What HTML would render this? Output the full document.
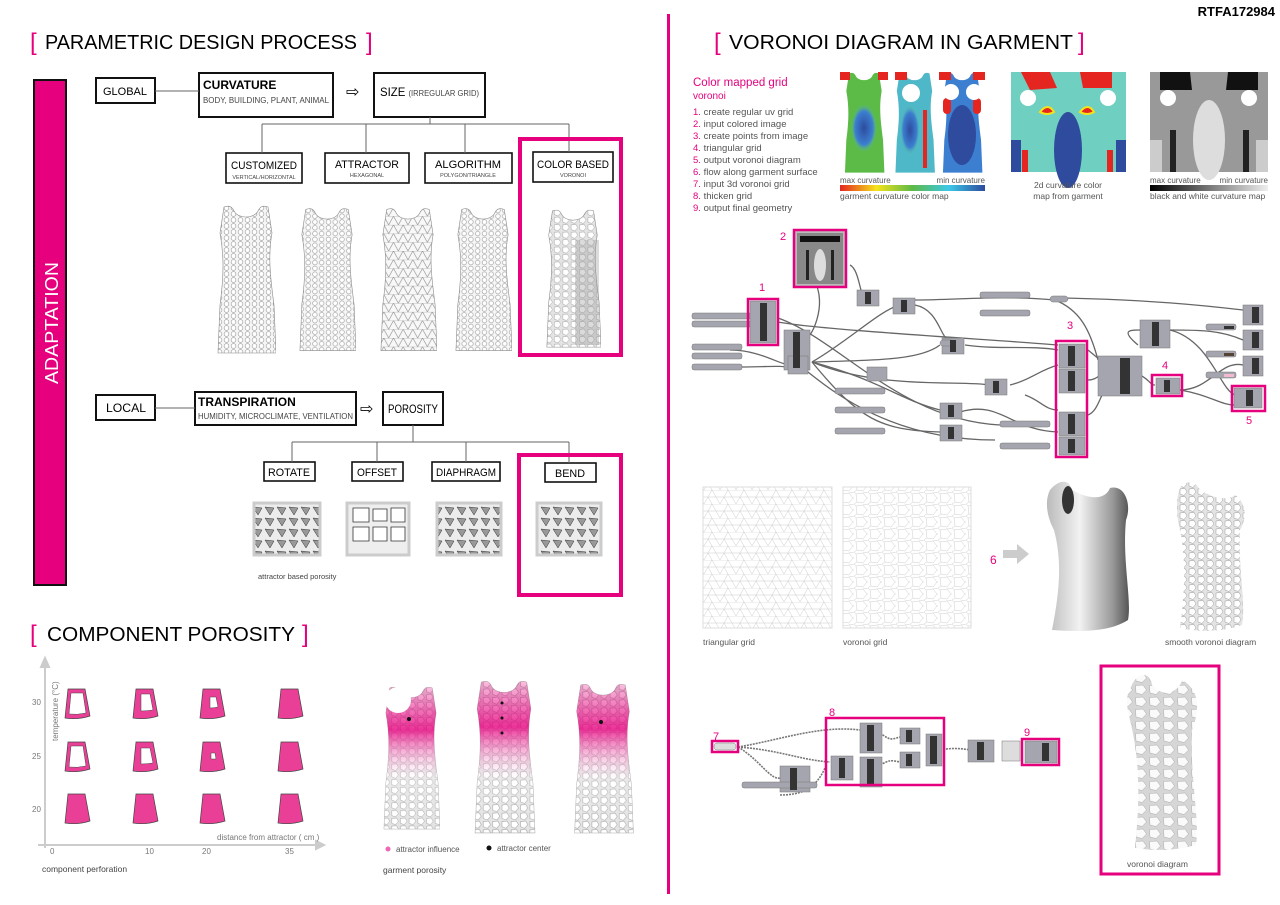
<!DOCTYPE html>
<html><head><meta charset="utf-8"><style>
html,body{margin:0;padding:0;background:#fff;width:1280px;height:905px;overflow:hidden}
svg{display:block}
text{font-family:"Liberation Sans",sans-serif}
</style></head><body>
<svg width="1280" height="905" viewBox="0 0 1280 905" xmlns="http://www.w3.org/2000/svg">
<defs>
 <pattern id="hex" width="7" height="6" patternUnits="userSpaceOnUse">
  <rect width="7" height="6" fill="#f6f6f6"/>
  <circle cx="3.5" cy="3" r="2.4" fill="#fff" stroke="#999" stroke-width="0.6"/>
 </pattern>
 <pattern id="tri" width="10" height="9" patternUnits="userSpaceOnUse">
  <rect width="10" height="9" fill="#f8f8f8"/>
  <path d="M0,9 L5,0 L10,9 M0,0 H10" stroke="#888" stroke-width="0.6" fill="none"/>
 </pattern>
 <pattern id="vor" width="9" height="8" patternUnits="userSpaceOnUse">
  <rect width="9" height="8" fill="#e4e4e4"/>
  <path d="M1,1 L6,0.5 L8,4 L5,7.5 L1,6 Z" fill="#fff" stroke="#999" stroke-width="0.5"/>
 </pattern>
 <pattern id="vorbig" width="14" height="12" patternUnits="userSpaceOnUse">
  <rect width="14" height="12" fill="#d6d6d6"/>
  <path d="M1.5,1.5 L9,1 L12.5,6 L8,10.5 L2,9 Z" fill="#fafafa" stroke="#aaa" stroke-width="0.5"/>
 </pattern>
 <pattern id="tgrid" width="16" height="14" patternUnits="userSpaceOnUse">
  <path d="M0,14 L8,0 L16,14 M0,0 H16 M0,7 H16 M4,7 L8,14" stroke="#ccc" stroke-width="0.5" fill="none"/>
 </pattern>
 <pattern id="vgrid" width="14" height="12" patternUnits="userSpaceOnUse">
  <path d="M2,2 L9,1 L13,6 L9,11 L3,10 Z M9,1 L14,0 M13,6 L14,6 M3,10 L0,12 M2,2 L0,0" stroke="#ccc" stroke-width="0.5" fill="none"/>
 </pattern>
 <pattern id="poro" width="12" height="11" patternUnits="userSpaceOnUse">
  <rect width="12" height="11" fill="#ececec"/>
  <path d="M1,1 L10,2 L6,9 Z" fill="#999" stroke="#333" stroke-width="0.5"/>
 </pattern>
 <symbol id="dress" viewBox="0 0 60 150">
  <path d="M8,2 C14,0 16,2 18,6 C22,14 38,14 42,6 C44,2 46,0 52,2 L56,28 C52,50 54,70 58,100 L60,148 L2,148 L4,100 C8,70 8,50 4,28 Z"/>
 </symbol>
 <linearGradient id="cbar" x1="0" x2="1">
  <stop offset="0" stop-color="#e52520"/><stop offset="0.25" stop-color="#f5e31a"/><stop offset="0.5" stop-color="#5cba47"/><stop offset="0.75" stop-color="#3cc8e8"/><stop offset="1" stop-color="#2e4b9e"/>
 </linearGradient>
 <linearGradient id="bwbar" x1="0" x2="1"><stop offset="0" stop-color="#000"/><stop offset="1" stop-color="#eee"/></linearGradient>
 <radialGradient id="blue" cx="0.5" cy="0.5" r="0.5"><stop offset="0" stop-color="#2e4b9e"/><stop offset="0.7" stop-color="#3c7fd0"/><stop offset="1" stop-color="#5cc0a0" stop-opacity="0"/></radialGradient>
 <linearGradient id="pinkfade" x1="0" y1="0" x2="0" y2="1">
  <stop offset="0" stop-color="#e6007e" stop-opacity="0.25"/><stop offset="0.3" stop-color="#e6007e" stop-opacity="0.8"/><stop offset="0.65" stop-color="#fff" stop-opacity="0.2"/><stop offset="1" stop-color="#fff" stop-opacity="0"/>
 </linearGradient>
 <linearGradient id="shade" x1="0" x2="1"><stop offset="0" stop-color="#bbb"/><stop offset="0.4" stop-color="#f2f2f2"/><stop offset="0.8" stop-color="#999"/><stop offset="1" stop-color="#555"/></linearGradient>
</defs>

<text x="1275" y="16" font-size="13" font-weight="bold" text-anchor="end">RTFA172984</text>
<rect x="667" y="14" width="3" height="880" fill="#e6007e"/>

<text x="30" y="50" font-size="24" fill="#e6007e">[</text>
<text x="45" y="49" font-size="20" textLength="312" lengthAdjust="spacingAndGlyphs">PARAMETRIC DESIGN PROCESS</text>
<text x="366" y="50" font-size="24" fill="#e6007e">]</text>

<rect x="34" y="80" width="32" height="505" fill="#e6007e" stroke="#111" stroke-width="2"/>
<text transform="translate(58,384) rotate(-90)" font-size="18" fill="#fff" textLength="122" lengthAdjust="spacingAndGlyphs">ADAPTATION</text>

<g fill="none" stroke="#111" stroke-width="2">
 <rect x="96" y="78" width="59" height="25"/>
 <rect x="199" y="73" width="134" height="44"/>
 <rect x="374" y="73" width="111" height="44"/>
 <rect x="226" y="153" width="76" height="30" stroke-width="1.6"/>
 <rect x="325" y="153" width="84" height="30" stroke-width="1.6"/>
 <rect x="425" y="153" width="87" height="30" stroke-width="1.6"/>
 <rect x="533" y="152" width="80" height="30" stroke-width="1.6"/>
</g>
<g stroke="#666" stroke-width="1" fill="none">
 <path d="M155,91 H199 M430,117 V124 M262,124 H569 M262,124 V153 M366,124 V153 M465,124 V153 M569,124 V152"/>
</g>
<text x="103" y="95" font-size="11" textLength="44" lengthAdjust="spacingAndGlyphs">GLOBAL</text>
<text x="203" y="89" font-size="12" font-weight="bold">CURVATURE</text>
<text x="203" y="103" font-size="8.5" fill="#444" textLength="126" lengthAdjust="spacingAndGlyphs">BODY, BUILDING, PLANT, ANIMAL</text>
<text x="346" y="97" font-size="16">⇨</text>
<text x="380" y="96" font-size="12" textLength="99" lengthAdjust="spacingAndGlyphs">SIZE <tspan font-size="8" fill="#444">(IRREGULAR GRID)</tspan></text>
<text x="264" y="169" font-size="11" text-anchor="middle" textLength="66" lengthAdjust="spacingAndGlyphs">CUSTOMIZED</text>
<text x="264" y="179" font-size="5.5" text-anchor="middle" fill="#444">VERTICAL/HORIZONTAL</text>
<text x="367" y="168" font-size="11" text-anchor="middle" textLength="64" lengthAdjust="spacingAndGlyphs">ATTRACTOR</text>
<text x="367" y="177" font-size="5.5" text-anchor="middle" fill="#444">HEXAGONAL</text>
<text x="468" y="168" font-size="11" text-anchor="middle" textLength="66" lengthAdjust="spacingAndGlyphs">ALGORITHM</text>
<text x="468" y="177" font-size="5.5" text-anchor="middle" fill="#444">POLYGON/TRIANGLE</text>
<text x="573" y="168" font-size="11" text-anchor="middle" textLength="72" lengthAdjust="spacingAndGlyphs">COLOR BASED</text>
<text x="573" y="177" font-size="5.5" text-anchor="middle" fill="#444">VORONOI</text>
<rect x="520" y="139" width="101" height="216" fill="none" stroke="#e6007e" stroke-width="4"/>

<use href="#dress" x="216" y="205" width="60" height="150" fill="url(#hex)" stroke="#888" stroke-width="0.6"/>
<use href="#dress" x="298" y="205" width="58" height="150" fill="url(#hex)" stroke="#888" stroke-width="0.6"/>
<use href="#dress" x="379" y="206" width="58" height="148" fill="url(#tri)" stroke="#888" stroke-width="0.6"/>
<use href="#dress" x="454" y="206" width="58" height="148" fill="url(#hex)" stroke="#888" stroke-width="0.6"/>
<use href="#dress" x="545" y="206" width="56" height="146" fill="url(#vor)" stroke="#888" stroke-width="0.6"/>
<rect x="575" y="240" width="24" height="105" fill="#999" opacity="0.35"/>

<g fill="none" stroke="#111" stroke-width="2">
 <rect x="96" y="395" width="59" height="25"/>
 <rect x="195" y="392" width="161" height="33"/>
 <rect x="383" y="392" width="60" height="33"/>
 <rect x="264" y="462" width="51" height="19" stroke-width="1.6"/>
 <rect x="352" y="462" width="51" height="19" stroke-width="1.6"/>
 <rect x="432" y="462" width="68" height="19" stroke-width="1.6"/>
 <rect x="545" y="463" width="51" height="19" stroke-width="1.6"/>
</g>
<g stroke="#666" stroke-width="1" fill="none">
 <path d="M155,408 H195 M413,425 V442 M292,442 H569 M292,442 V462 M377,442 V462 M466,442 V462 M569,442 V463"/>
</g>
<text x="106" y="412" font-size="11.5" textLength="40" lengthAdjust="spacingAndGlyphs">LOCAL</text>
<text x="198" y="406" font-size="12" font-weight="bold">TRANSPIRATION</text>
<text x="198" y="419" font-size="8.5" fill="#444" textLength="155" lengthAdjust="spacingAndGlyphs">HUMIDITY, MICROCLIMATE, VENTILATION</text>
<text x="360" y="414" font-size="16">⇨</text>
<text x="388" y="413" font-size="11.5" textLength="50" lengthAdjust="spacingAndGlyphs">POROSITY</text>
<text x="289" y="476" font-size="11" text-anchor="middle" textLength="42" lengthAdjust="spacingAndGlyphs">ROTATE</text>
<text x="377" y="476" font-size="11" text-anchor="middle" textLength="40" lengthAdjust="spacingAndGlyphs">OFFSET</text>
<text x="466" y="476" font-size="11" text-anchor="middle" textLength="60" lengthAdjust="spacingAndGlyphs">DIAPHRAGM</text>
<text x="570" y="477" font-size="11" text-anchor="middle" textLength="30" lengthAdjust="spacingAndGlyphs">BEND</text>
<rect x="519" y="455" width="102" height="140" fill="none" stroke="#e6007e" stroke-width="4"/>
<g stroke="#ccc" stroke-width="3">
 <rect x="254" y="503" width="66" height="52" fill="url(#poro)"/>
 <rect x="347" y="503" width="62" height="52" fill="#eee"/>
 <rect x="437" y="503" width="64" height="52" fill="url(#poro)"/>
 <rect x="537" y="503" width="64" height="52" fill="url(#poro)"/>
</g>
<g fill="#fff" stroke="#333" stroke-width="0.8">
 <path d="M353,508 h16 v14 h-16z M373,509 h14 v12 h-14z M391,508 h14 v14 h-14z M353,527 h16 v14 h-16z M373,527 h14 v14 h-14z M391,527 h14 v14 h-14z"/>
</g>
<text x="258" y="579" font-size="7.5" fill="#444">attractor based porosity</text>

<text x="30" y="642" font-size="24" fill="#e6007e">[</text>
<text x="47" y="641" font-size="20" textLength="248" lengthAdjust="spacingAndGlyphs">COMPONENT POROSITY</text>
<text x="302" y="642" font-size="24" fill="#e6007e">]</text>
<g stroke="#ccc" stroke-width="2" fill="#ccc">
 <path d="M45,848 V665" fill="none"/><path d="M41,667 L45,658 L49,667Z"/>
 <path d="M38,845 H318" fill="none"/><path d="M316,841 L324,845 L316,849Z"/>
</g>
<g font-size="8" fill="#777">
 <text x="32" y="705">30</text><text x="32" y="759">25</text><text x="32" y="812">20</text>
 <text x="50" y="854">0</text><text x="145" y="854">10</text><text x="202" y="854">20</text><text x="285" y="854">35</text>
 <text x="217" y="840">distance from attractor ( cm )</text>
 <text transform="translate(58,741) rotate(-90)">temperature (°C)</text>
</g>
<text x="42" y="872" font-size="8.5" fill="#444">component perforation</text>
<g fill="#ea3f96" stroke="#444" stroke-width="0.7">
 <g id="r1">
  <path d="M68,689 h17 l5,27 q-12,4 -25,2 z"/>
  <path d="M136,689 h17 l5,27 q-12,4 -25,2 z"/>
  <path d="M203,689 h17 l5,27 q-12,4 -25,2 z"/>
  <path d="M281,689 h17 l5,27 q-12,4 -25,2 z"/>
 </g>
 <use href="#r1" y="53"/><use href="#r1" y="105"/>
</g>
<g fill="#fff" stroke="#444" stroke-width="0.5">
 <path d="M71,693 h12 l3,20 q-9,2 -17,1 z"/><path d="M141,694 h9 l3,16 q-7,1 -12,1 z"/><path d="M210,697 h6 l2,10 q-4,1 -8,1 z"/>
 <path d="M71,746 h12 l3,20 q-9,2 -17,1 z"/><path d="M141,748 h9 l3,15 q-7,1 -12,1 z"/><path d="M211,753 h4 l1,6 q-3,0 -5,0 z"/>
</g>
<use href="#dress" x="382" y="682" width="58" height="153" fill="url(#vor)" stroke="#aaa" stroke-width="0.5"/>
<use href="#dress" x="382" y="682" width="58" height="153" fill="url(#pinkfade)"/>
<circle cx="398" cy="700" r="13" fill="#fff"/>
<use href="#dress" x="468" y="680" width="72" height="155" fill="url(#vor)" stroke="#aaa" stroke-width="0.5"/>
<use href="#dress" x="468" y="680" width="72" height="155" fill="url(#pinkfade)"/>
<use href="#dress" x="565" y="683" width="76" height="152" fill="url(#vor)" stroke="#aaa" stroke-width="0.5"/>
<use href="#dress" x="565" y="683" width="76" height="152" fill="url(#pinkfade)"/>
<g fill="#111"><circle cx="409" cy="719" r="2"/><circle cx="502" cy="703" r="1.5"/><circle cx="502" cy="718" r="1.5"/><circle cx="502" cy="733" r="1.5"/><circle cx="601" cy="722" r="2"/></g>
<circle cx="388" cy="849" r="2.5" fill="#e6007e" opacity="0.6"/>
<text x="396" y="852" font-size="8" fill="#555">attractor influence</text>
<circle cx="489" cy="848" r="2.5" fill="#111"/>
<text x="497" y="851" font-size="8" fill="#555">attractor center</text>
<text x="383" y="873" font-size="8.5" fill="#444">garment porosity</text>

<text x="714" y="50" font-size="24" fill="#e6007e">[</text>
<text x="729" y="49" font-size="20" textLength="344" lengthAdjust="spacingAndGlyphs">VORONOI DIAGRAM IN GARMENT</text>
<text x="1078" y="50" font-size="24" fill="#e6007e">]</text>

<text x="693" y="86" font-size="11.5" fill="#e6007e">Color mapped  grid</text>
<text x="693" y="99" font-size="10" fill="#e6007e">voronoi</text>
<g font-size="9.5" fill="#555">
 <text x="693" y="115"><tspan fill="#e6007e">1.</tspan> create regular uv grid</text>
 <text x="693" y="127"><tspan fill="#e6007e">2.</tspan> input colored image</text>
 <text x="693" y="139"><tspan fill="#e6007e">3.</tspan> create points from image</text>
 <text x="693" y="151"><tspan fill="#e6007e">4.</tspan> triangular grid</text>
 <text x="693" y="163"><tspan fill="#e6007e">5.</tspan> output voronoi diagram</text>
 <text x="693" y="175"><tspan fill="#e6007e">6.</tspan> flow along garment surface</text>
 <text x="693" y="187"><tspan fill="#e6007e">7.</tspan> input 3d voronoi grid</text>
 <text x="693" y="199"><tspan fill="#e6007e">8.</tspan> thicken grid</text>
 <text x="693" y="211"><tspan fill="#e6007e">9.</tspan> output final geometry</text>
</g>
<g>
 <use href="#dress" x="839" y="72" width="50" height="102" fill="#5cba47"/>
 <ellipse cx="864" cy="128" rx="13" ry="24" fill="url(#blue)"/>
 <use href="#dress" x="893" y="72" width="43" height="102" fill="#4fb8c8"/>
 <ellipse cx="910" cy="130" rx="10" ry="25" fill="url(#blue)"/>
 <rect x="923" y="110" width="4" height="58" fill="#e52520"/>
 <use href="#dress" x="938" y="72" width="48" height="102" fill="#3c7fd0"/>
 <ellipse cx="962" cy="135" rx="14" ry="30" fill="#2e4b9e"/>
 <rect x="943" y="98" width="8" height="16" rx="4" fill="#e52520"/><rect x="973" y="98" width="8" height="16" rx="4" fill="#e52520"/>
 <g fill="#e52520"><rect x="840" y="72" width="10" height="8"/><rect x="878" y="72" width="10" height="8"/><rect x="939" y="72" width="12" height="8"/><rect x="973" y="72" width="12" height="8"/><rect x="895" y="72" width="12" height="8"/></g>
 <g fill="#fff"><circle cx="911" cy="93" r="9"/><circle cx="951" cy="92" r="8"/><circle cx="974" cy="92" r="8"/></g>
</g>
<text x="840" y="183" font-size="8" fill="#555">max curvature</text>
<text x="985" y="183" font-size="8" fill="#555" text-anchor="end">min curvature</text>
<rect x="840" y="185" width="145" height="6" fill="url(#cbar)"/>
<text x="840" y="199" font-size="8.5" fill="#555">garment curvature color map</text>

<rect x="1011" y="72" width="115" height="100" fill="#6fcfc0"/>
<path d="M1021,72 L1050,72 L1057,88 L1030,90Z M1080,72 L1112,72 L1112,88 L1083,88Z" fill="#e52520"/>
<ellipse cx="1068" cy="150" rx="14" ry="38" fill="#2e4b9e"/>
<rect x="1022" y="150" width="6" height="22" fill="#e52520"/><rect x="1107" y="150" width="6" height="22" fill="#e52520"/>
<path d="M1040,112 q8,-10 14,0 q-7,4 -14,0Z M1080,112 q8,-10 14,0 q-7,4 -14,0Z" fill="#e52520" stroke="#f5e31a" stroke-width="2"/>
<rect x="1011" y="140" width="10" height="32" fill="#2e4b9e"/><rect x="1116" y="140" width="10" height="32" fill="#2e4b9e"/>
<circle cx="1028" cy="98" r="8" fill="#fff"/><circle cx="1108" cy="98" r="8" fill="#fff"/>
<text x="1068" y="188" font-size="8.5" fill="#555" text-anchor="middle">2d curvature color</text>
<text x="1068" y="199" font-size="8.5" fill="#555" text-anchor="middle">map from garment</text>

<rect x="1150" y="72" width="118" height="100" fill="#999"/>
<path d="M1160,72 h30 l2,18 h-32z M1228,72 h30 v18 h-32z" fill="#111"/>
<ellipse cx="1209" cy="140" rx="16" ry="40" fill="#ddd"/>
<rect x="1170" y="130" width="6" height="42" fill="#222"/><rect x="1243" y="130" width="6" height="42" fill="#222"/>
<rect x="1150" y="140" width="12" height="32" fill="#ccc"/><rect x="1256" y="140" width="12" height="32" fill="#ccc"/>
<circle cx="1168" cy="98" r="8" fill="#fff"/><circle cx="1249" cy="98" r="8" fill="#fff"/>
<text x="1150" y="183" font-size="8" fill="#555">max curvature</text>
<text x="1268" y="183" font-size="8" fill="#555" text-anchor="end">min curvature</text>
<rect x="1150" y="185" width="118" height="6" fill="url(#bwbar)"/>
<text x="1150" y="199" font-size="8.5" fill="#555">black and white curvature map</text>

<g stroke="#666" stroke-width="1.3" fill="none">
 <path d="M778,322 C820,330 1000,340 1058,345"/>
 <path d="M778,318 C840,340 900,420 1000,425"/>
 <path d="M810,335 C820,320 830,280 796,265"/>
 <path d="M850,265 C860,270 860,300 865,295"/>
 <path d="M812,362 C850,340 880,310 900,305"/>
 <path d="M812,362 C880,360 920,360 940,345"/>
 <path d="M812,362 C880,380 900,400 940,410"/>
 <path d="M812,362 C860,420 880,430 940,432"/>
 <path d="M812,362 C880,390 960,380 990,385"/>
 <path d="M915,300 C960,300 1000,295 1055,300 C1080,310 1090,330 1098,360"/>
 <path d="M915,305 C940,310 940,340 950,340"/>
 <path d="M965,345 C1000,350 1030,345 1058,350"/>
 <path d="M1010,385 C1030,380 1040,370 1058,365"/>
 <path d="M1025,395 C1040,400 1045,410 1058,410"/>
 <path d="M960,412 C1000,400 1010,430 1058,432"/>
 <path d="M1088,350 C1100,360 1100,360 1108,365"/>
 <path d="M1088,380 C1100,380 1100,370 1108,375"/>
 <path d="M1088,415 C1100,410 1100,390 1108,390"/>
 <path d="M1140,375 C1150,380 1150,385 1155,385"/>
 <path d="M1138,345 C1120,330 1130,330 1140,330"/>
 <path d="M1170,330 C1200,330 1220,330 1243,340"/>
 <path d="M1170,330 C1210,340 1220,390 1235,395"/>
 <path d="M1180,390 C1210,390 1220,360 1243,365"/>
 <path d="M1180,390 C1210,395 1220,405 1235,405"/>
 <path d="M1065,298 C1150,300 1200,305 1243,310"/>
 <path d="M730,350 C760,350 780,365 790,365"/>
 <path d="M740,367 C770,367 780,365 790,368"/>
 <path d="M800,366 C820,380 880,440 995,440"/>
</g>
<g fill="#a5a5af" stroke="#777" stroke-width="0.5">
 <rect x="692" y="313" width="60" height="6" rx="2"/><rect x="692" y="321" width="60" height="6" rx="2"/>
 <rect x="692" y="344" width="50" height="6" rx="2"/><rect x="692" y="353" width="50" height="6" rx="2"/><rect x="692" y="364" width="50" height="6" rx="2"/>
 <rect x="835" y="388" width="50" height="6" rx="2"/><rect x="835" y="407" width="50" height="6" rx="2"/><rect x="835" y="428" width="50" height="6" rx="2"/>
 <rect x="980" y="292" width="50" height="6" rx="2"/><rect x="980" y="310" width="50" height="6" rx="2"/>
 <rect x="1000" y="421" width="50" height="6" rx="2"/><rect x="1000" y="443" width="50" height="6" rx="2"/>
 <rect x="1206" y="324" width="30" height="6" rx="2"/><rect x="1206" y="351" width="30" height="6" rx="2"/><rect x="1206" y="372" width="30" height="6" rx="2"/>
 <rect x="750" y="301" width="26" height="42"/>
 <rect x="784" y="330" width="26" height="40"/>
 <rect x="788" y="356" width="20" height="18"/>
 <rect x="857" y="290" width="22" height="16"/>
 <rect x="893" y="298" width="22" height="16"/>
 <rect x="942" y="338" width="22" height="16"/>
 <rect x="867" y="367" width="20" height="14"/>
 <rect x="985" y="379" width="22" height="16"/>
 <rect x="940" y="403" width="22" height="16"/>
 <rect x="940" y="425" width="22" height="16"/>
 <rect x="1059" y="344" width="26" height="24"/>
 <rect x="1059" y="369" width="26" height="24"/>
 <rect x="1059" y="412" width="26" height="24"/>
 <rect x="1059" y="437" width="26" height="18"/>
 <rect x="1098" y="356" width="44" height="40"/>
 <rect x="1140" y="320" width="30" height="28"/>
 <rect x="1156" y="378" width="24" height="16"/>
 <rect x="1243" y="305" width="20" height="20"/><rect x="1243" y="330" width="20" height="20"/><rect x="1243" y="356" width="20" height="20"/>
 <rect x="1234" y="388" width="28" height="20"/>
 <rect x="1050" y="296" width="18" height="6" rx="3"/><rect x="940" y="340" width="14" height="6" rx="3"/>
</g>
<g fill="#333">
 <rect x="760" y="303" width="7" height="38"/><rect x="793" y="332" width="7" height="36"/><rect x="865" y="292" width="6" height="12"/><rect x="901" y="300" width="6" height="12"/>
 <rect x="950" y="340" width="6" height="12"/><rect x="993" y="381" width="6" height="12"/><rect x="948" y="405" width="6" height="12"/><rect x="948" y="427" width="6" height="12"/>
 <rect x="1068" y="346" width="7" height="20"/><rect x="1068" y="371" width="7" height="20"/><rect x="1068" y="414" width="7" height="20"/><rect x="1068" y="439" width="7" height="14"/>
 <rect x="1120" y="358" width="10" height="36"/><rect x="1152" y="322" width="7" height="24"/><rect x="1164" y="380" width="6" height="12"/>
 <rect x="1252" y="307" width="7" height="16"/><rect x="1252" y="332" width="7" height="16"/><rect x="1252" y="358" width="7" height="16"/><rect x="1246" y="390" width="7" height="16"/>
 <rect x="1224" y="326" width="10" height="3"/><rect x="1224" y="353" width="10" height="3" fill="#543"/>
</g>
<rect x="1224" y="374" width="10" height="3" fill="#f4b8d0"/>
<rect x="796" y="232" width="48" height="53" fill="#888" stroke="#bbb" stroke-width="2"/>
<path d="M800,236 h40 v6 h-40z" fill="#111"/><ellipse cx="820" cy="265" rx="6" ry="16" fill="#ddd"/><rect x="806" y="250" width="3" height="30" fill="#222"/><rect x="831" y="250" width="3" height="30" fill="#222"/>
<g fill="none" stroke="#e6007e" stroke-width="2.5">
 <rect x="794" y="230" width="52" height="57"/>
 <rect x="748" y="299" width="30" height="46"/>
 <rect x="1056" y="341" width="31" height="116"/>
 <rect x="1152" y="375" width="30" height="21"/>
 <rect x="1232" y="386" width="33" height="25"/>
</g>
<g fill="#e6007e" font-size="11">
 <text x="780" y="240">2</text><text x="759" y="291">1</text><text x="1067" y="329">3</text><text x="1162" y="369">4</text><text x="1246" y="424">5</text>
</g>

<rect x="703" y="487" width="129" height="141" fill="url(#tgrid)" stroke="#ddd"/>
<rect x="843" y="487" width="128" height="141" fill="url(#vgrid)" stroke="#ddd"/>
<text x="703" y="645" font-size="8.5" fill="#555">triangular grid</text>
<text x="843" y="645" font-size="8.5" fill="#555">voronoi grid</text>
<text x="990" y="564" font-size="12" fill="#e6007e">6</text>
<path d="M1003,550 h14 v-6 l12,10 l-12,10 v-6 h-14z" fill="#ccc"/>
<path d="M1050,490 C1060,478 1070,480 1072,490 C1090,500 1105,500 1110,488 C1125,484 1132,505 1126,520 C1122,560 1132,600 1128,620 C1110,632 1080,632 1052,630 C1060,590 1062,560 1054,530 C1046,515 1045,500 1050,490Z" fill="url(#shade)"/>
<ellipse cx="1068" cy="500" rx="6" ry="14" fill="#333"/>
<path d="M1180,488 C1186,480 1195,480 1200,490 C1215,500 1230,500 1235,495 C1248,505 1246,520 1240,530 C1238,570 1246,600 1242,625 C1225,632 1195,632 1180,628 C1185,590 1186,560 1180,530 C1176,515 1176,498 1180,488Z" fill="url(#vor)"/>
<text x="1165" y="645" font-size="8.5" fill="#555">smooth voronoi diagram</text>

<g stroke="#777" stroke-width="1.6" fill="none" stroke-dasharray="2,1">
 <path d="M738,747 C780,740 820,725 860,730"/>
 <path d="M738,747 C780,750 800,760 830,762"/>
 <path d="M738,747 C760,760 770,780 780,778"/>
 <path d="M880,733 C890,740 890,740 900,737"/>
 <path d="M880,765 C890,760 890,760 900,762"/>
 <path d="M940,750 C950,748 960,748 970,750"/>
 <path d="M780,795 C800,795 815,790 825,768"/>
</g>
<g fill="#a5a5af" stroke="#777" stroke-width="0.5">
 <rect x="714" y="743" width="22" height="7" rx="3" fill="#ddd"/>
 <rect x="780" y="766" width="30" height="26"/>
 <rect x="831" y="756" width="22" height="24"/>
 <rect x="860" y="723" width="22" height="30"/><rect x="860" y="757" width="22" height="30"/>
 <rect x="900" y="728" width="20" height="16"/><rect x="900" y="752" width="20" height="16"/>
 <rect x="926" y="734" width="16" height="32"/>
 <rect x="968" y="740" width="26" height="22"/>
 <rect x="1002" y="741" width="18" height="20" fill="#ddd"/>
 <rect x="1025" y="741" width="32" height="22"/>
 <rect x="742" y="782" width="75" height="6" rx="2"/>
</g>
<g fill="#333"><rect x="790" y="768" width="7" height="22"/><rect x="839" y="758" width="6" height="20"/><rect x="867" y="725" width="7" height="26"/><rect x="867" y="759" width="7" height="26"/><rect x="906" y="730" width="6" height="12"/><rect x="906" y="754" width="6" height="12"/><rect x="930" y="736" width="7" height="28"/><rect x="977" y="742" width="7" height="18"/><rect x="1042" y="743" width="7" height="18"/></g>
<g fill="none" stroke="#e6007e" stroke-width="2.5">
 <rect x="712" y="741" width="26" height="11"/>
 <rect x="826" y="718" width="118" height="67"/>
 <rect x="1022" y="739" width="37" height="26"/>
</g>
<g fill="#e6007e" font-size="11"><text x="713" y="740">7</text><text x="829" y="716">8</text><text x="1024" y="736">9</text></g>

<rect x="1101" y="666" width="118" height="208" fill="none" stroke="#e6007e" stroke-width="3"/>
<path d="M1130,690 C1135,672 1150,670 1152,685 C1165,700 1180,690 1182,680 C1200,690 1200,710 1192,730 C1190,780 1200,820 1196,845 C1170,852 1150,850 1135,848 C1140,800 1140,760 1130,720 C1126,705 1126,695 1130,690Z" fill="url(#vorbig)"/>
<text x="1127" y="867" font-size="8.5" fill="#555">voronoi diagram</text>
</svg>
</body></html>
